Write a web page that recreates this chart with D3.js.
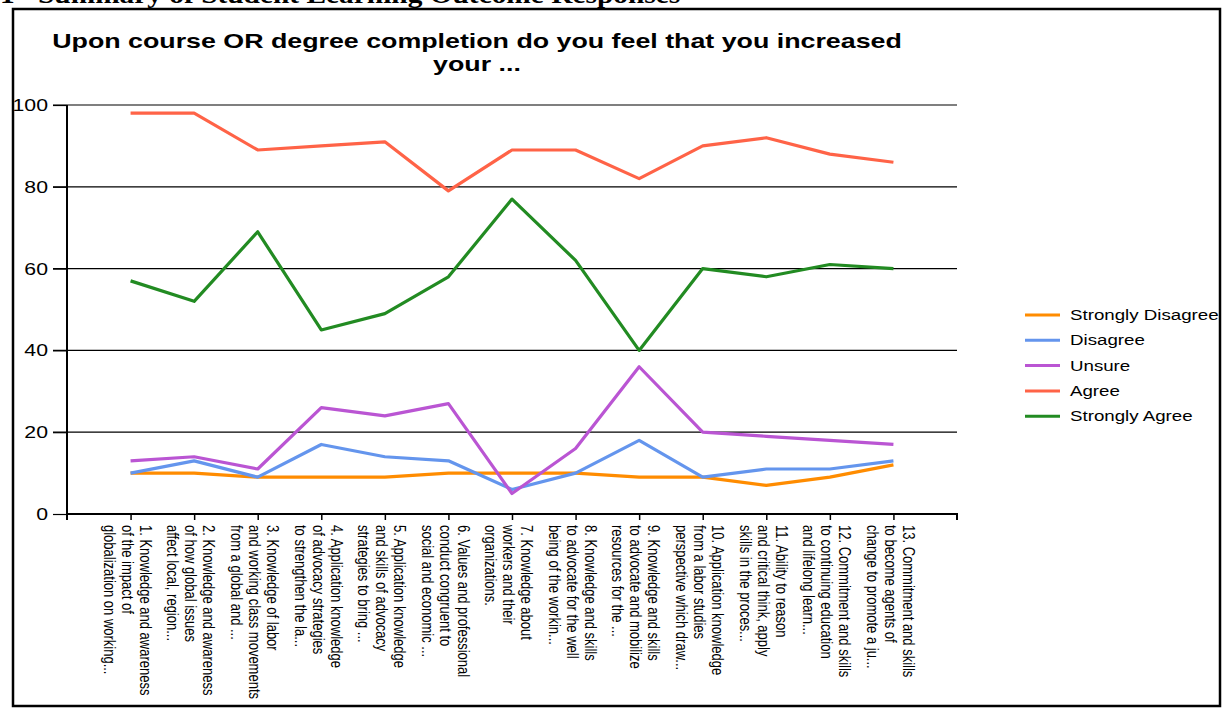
<!DOCTYPE html>
<html><head><meta charset="utf-8">
<script src="https://cdn.jsdelivr.net/npm/d3@7/dist/d3.min.js"></script>
<style>body{margin:0;background:#fff;}svg{display:block;}</style>
</head><body>
<svg id="c" width="1225" height="708"></svg>
<script>
const categories = [
  ["1. Knowledge and awareness","of the impact of","globalization on working..."],
  ["2. Knowledge and awareness","of how global issues","affect local, region..."],
  ["3. Knowledge of labor","and working class movements","from a global and ..."],
  ["4. Application knowledge","of advocacy strategies","to strengthen the la..."],
  ["5. Application knowledge","and skills of advocacy","strategies to bring ..."],
  ["6. Values and professional","conduct congruent to","social and economic ..."],
  ["7. Knowledge about","workers and their","organizations."],
  ["8. Knowledge and skills","to advocate for the well","being of the workin..."],
  ["9.  Knowledge and skills","to advocate and mobilize","resources for the ..."],
  ["10. Application knowledge","from a labor studies","perspective which draw..."],
  ["11. Ability to reason","and critical think, apply","skills in the proces..."],
  ["12. Commitment and skills","to continuing education","and lifelong learn..."],
  ["13. Commitment and skills","to become agents of","change to promote a ju..."]
];
const seriesNames = ["Strongly Disagree","Disagree","Unsure","Agree","Strongly Agree"];
const stronglyDisagree = [10,10,9,9,9,10,10,10,9,9,7,9,12];
const disagree = [10,13,9,17,14,13,6,10,18,9,11,11,13];
const unsure = [13,14,11,26,24,27,5,16,36,20,19,18,17];
const agree = [98,98,89,90,91,79,89,89,82,90,92,88,86];
const stronglyAgree = [57,52,69,45,49,58,77,62,40,60,58,61,60];
const yTicks = [0,20,40,60,80,100];
const colors = ["#FF8C00","#6495ED","#BA55D3","#FF6347","#228B22"];
const titleLines = ["Upon course OR degree completion do you feel that you increased","your ..."];

const svg = d3.select("#c");
const font = "Liberation Sans, Arial, sans-serif";
const serif = "Liberation Serif, Times New Roman, serif";

// heading (cut off at top edge) and frame
svg.append("text").attr("transform","translate(0,3) scale(1.13,1)").attr("font-family",serif)
  .attr("font-weight","bold").attr("font-size",26).text("1");
svg.append("text").attr("transform","translate(38,3) scale(1.13,1)").attr("font-family",serif)
  .attr("font-weight","bold").attr("font-size",26).text("Summary of Student Learning Outcome Responses");
svg.append("rect").attr("x",13).attr("y",9).attr("width",1207).attr("height",697)
  .attr("fill","#fff").attr("stroke","#000").attr("stroke-width",2.5);

const L=67, R=957, T=105, B=514;
const idx = d3.range(categories.length);
const x = d3.scalePoint().domain(idx).range([L,R]).padding(1);
const y = d3.scaleLinear().domain([0,100]).range([B,T]);

// gridlines
svg.append("g").selectAll("line").data(yTicks.filter(d=>d>0)).join("line")
  .attr("x1",53).attr("x2",R).attr("y1",d=>y(d)).attr("y2",d=>y(d))
  .attr("stroke","#000").attr("stroke-width",1.2);

// y axis
const yAxis = svg.append("g").attr("transform",`translate(${L},0)`)
  .call(d3.axisLeft(y).tickValues(yTicks).tickSize(14).tickPadding(5));
yAxis.select(".domain").remove();
yAxis.selectAll(".tick line").attr("stroke","#000").attr("stroke-width",1.2);
yAxis.selectAll(".tick text").each(function(){
  const t = d3.select(this);
  const xx = +t.attr("x");
  t.attr("x",null).attr("transform",`translate(${xx},0) scale(1.25,1)`);
}).attr("font-family",font).attr("font-size",17).attr("fill","#000");
svg.append("line").attr("x1",L).attr("x2",L).attr("y1",T).attr("y2",B+6).attr("stroke","#000").attr("stroke-width",2);

// x axis
const xAxis = svg.append("g").attr("transform",`translate(0,${B})`)
  .call(d3.axisBottom(x).tickSize(6).tickFormat(""));
xAxis.select(".domain").attr("d",`M${L},6V0H${R}V6`).attr("stroke","#000").attr("stroke-width",2);
xAxis.selectAll(".tick line").attr("stroke","#000").attr("stroke-width",1.5);

// x labels rotated (reading top to bottom)
const lab = svg.append("g");
idx.forEach(i=>{
  const lines = categories[i];
  const n = lines.length;
  lines.forEach((t,j)=>{
    const cx = x(i) - 3 + (n-1-j - (n-1)/2)*18;
    lab.append("text")
      .attr("transform",`translate(${cx},525) rotate(90) scale(1,1.25)`)
      .attr("dy","0.35em")
      .attr("font-family",font).attr("font-size",13).attr("fill","#000")
      .attr("text-anchor","start").text(t);
  });
});

// lines
const allSeries = [stronglyDisagree,disagree,unsure,agree,stronglyAgree];
const line = d3.line().x((d,i)=>x(i)).y(d=>y(d));
allSeries.forEach((s,k)=>{
  svg.append("path").datum(s).attr("d",line).attr("fill","none")
    .attr("stroke",colors[k]).attr("stroke-width",3.2).attr("stroke-linejoin","round");
});

// title
titleLines.forEach((t,i)=>{
  svg.append("text").attr("transform",`translate(477,${48+i*23}) scale(1.34,1)`).attr("text-anchor","middle")
    .attr("font-family",font).attr("font-weight","bold").attr("font-size",20).text(t);
});

// legend
const lg = svg.append("g");
seriesNames.forEach((n,k)=>{
  const yy = 315 + k*25.3;
  lg.append("line").attr("x1",1025).attr("x2",1060).attr("y1",yy).attr("y2",yy)
    .attr("stroke",colors[k]).attr("stroke-width",3);
  lg.append("text").attr("transform",`translate(1070,${yy}) scale(1.29,1)`).attr("dy","0.35em")
    .attr("font-family",font).attr("font-size",14.5).attr("fill","#000").text(n);
});
</script>
</body></html>
